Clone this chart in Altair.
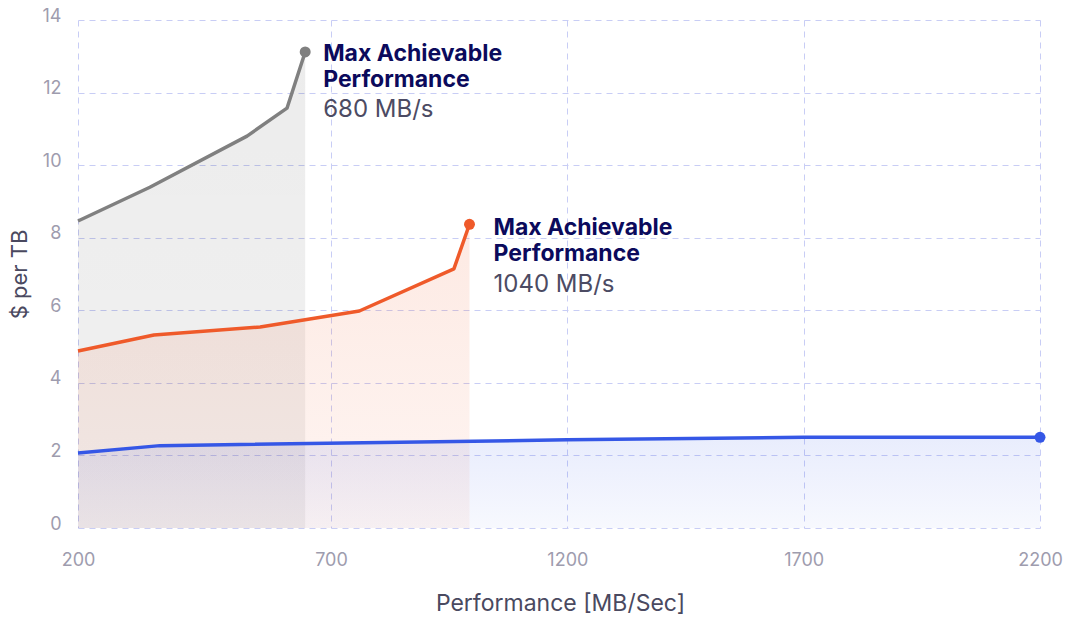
import altair as alt
import pandas as pd

# ---- data ----
x_ticks = [200, 700, 1200, 1700, 2200]
y_ticks = [0, 2, 4, 6, 8, 10, 12, 14]

gray_x = [200, 342, 534, 613, 649]
gray_y = [8.46, 9.39, 10.80, 11.57, 13.12]

orange_x = [200, 350, 560, 760, 960, 993]
orange_y = [4.88, 5.32, 5.54, 5.98, 7.14, 8.37]

blue_x = [200, 362, 1200, 1700, 2200]
blue_y = [2.07, 2.27, 2.43, 2.50, 2.50]

ann_line1 = ["Max Achievable", "Max Achievable"]
ann_line2 = ["Performance", "Performance"]
ann_value = ["680 MB/s", "1040 MB/s"]

FONT = "Inter"
W, H = 962, 508

xscale = alt.Scale(domain=[200, 700, 2200], range=[0, 253, W])
yscale = alt.Scale(domain=[0, 14], nice=False, zero=True)

xenc = alt.X(
    "x:Q",
    scale=xscale,
    axis=alt.Axis(
        values=x_ticks, format="d", title="Performance [MB/Sec]", grid=True, domain=False,
        ticks=False, labelFlush=False, labelFontSize=18, labelColor="#9E9CAE",
        labelPadding=23, labelFont=FONT, titleFont=FONT, titleFontSize=23,
        titleFontWeight="normal", titleColor="#4A4960", titleX=W / 2 + 1, titleY=82,
        titleAlign="center", titleBaseline="alphabetic",
        gridColor="#C8CDF5", gridDash=[6, 5], gridWidth=1,
    ),
)
yenc = alt.Y(
    "y:Q",
    scale=yscale,
    axis=alt.Axis(
        values=y_ticks, format="d", title="$ per TB", grid=True, domain=False, ticks=False,
        labelFontSize=18, labelColor="#9E9CAE", labelPadding=17, labelOffset=-4,
        labelFont=FONT, titleFont=FONT, titleFontSize=22, titleFontWeight="normal",
        titleColor="#4A4960", titleX=-59, titleY=H / 2, titleAngle=270,
        titleAlign="center", titleBaseline="middle",
        gridColor="#C8CDF5", gridDash=[6, 5], gridWidth=1,
    ),
)


def df(xs, ys):
    return pd.DataFrame({"x": xs, "y": ys})


def grad(rgb, top, bottom):
    return alt.Gradient(
        gradient="linear",
        stops=[
            alt.GradientStop(color=f"rgba({rgb},{top})", offset=0),
            alt.GradientStop(color=f"rgba({rgb},{bottom})", offset=1),
        ],
        x1=1, x2=1, y1=0, y2=1,
    )


series = [
    (df(gray_x, gray_y), "#808080", "0,0,0", 0.075, 0.055),
    (df(orange_x, orange_y), "#EF5A2A", "240,90,40", 0.13, 0.06),
    (df(blue_x, blue_y), "#3557E6", "51,88,232", 0.11, 0.04),
]

layers = []
for d, col, rgb, t, b in series:
    layers.append(
        alt.Chart(d).mark_area(color=grad(rgb, t, b), line=False).encode(x=xenc, y=yenc)
    )
for d, col, rgb, t, b in series:
    layers.append(
        alt.Chart(d).mark_line(color=col, strokeWidth=3.5, strokeJoin="round").encode(x=xenc, y=yenc)
    )
for d, col, rgb, t, b in series:
    layers.append(
        alt.Chart(d.tail(1)).mark_point(filled=True, color=col, size=120, opacity=1).encode(x=xenc, y=yenc)
    )

# annotations at the end points of the gray and orange series
ends = [
    (gray_x[-1], gray_y[-1], 18, [9, 35, 65]),
    (orange_x[-1], orange_y[-1], 24, [11, 37, 68]),
]
for i, (ex, ey, dx, dys) in enumerate(ends):
    a = pd.DataFrame({"x": [ex], "y": [ey], "l1": [ann_line1[i]], "l2": [ann_line2[i]], "v": [ann_value[i]]})
    layers.append(
        alt.Chart(a).mark_text(align="left", baseline="alphabetic", dx=dx, dy=dys[0], font=FONT,
                               fontSize=23, fontWeight="bold", color="#0B0A5C").encode(x=xenc, y=yenc, text="l1:N")
    )
    layers.append(
        alt.Chart(a).mark_text(align="left", baseline="alphabetic", dx=dx, dy=dys[1], font=FONT,
                               fontSize=23, fontWeight="bold", color="#0B0A5C").encode(x=xenc, y=yenc, text="l2:N")
    )
    layers.append(
        alt.Chart(a).mark_text(align="left", baseline="alphabetic", dx=dx, dy=dys[2], font=FONT,
                               fontSize=24, fontWeight="normal", color="#4C4B63").encode(x=xenc, y=yenc, text="v:N")
    )

chart = alt.layer(*layers).properties(
    width=W, height=H,
    padding={"left": 70, "top": 12, "right": 24, "bottom": 88},
    autosize=alt.AutoSizeParams(type="none"),
    background="white",
).configure_view(stroke=None)

chart.save("out.html", embed_options={"renderer": "svg", "actions": False})
